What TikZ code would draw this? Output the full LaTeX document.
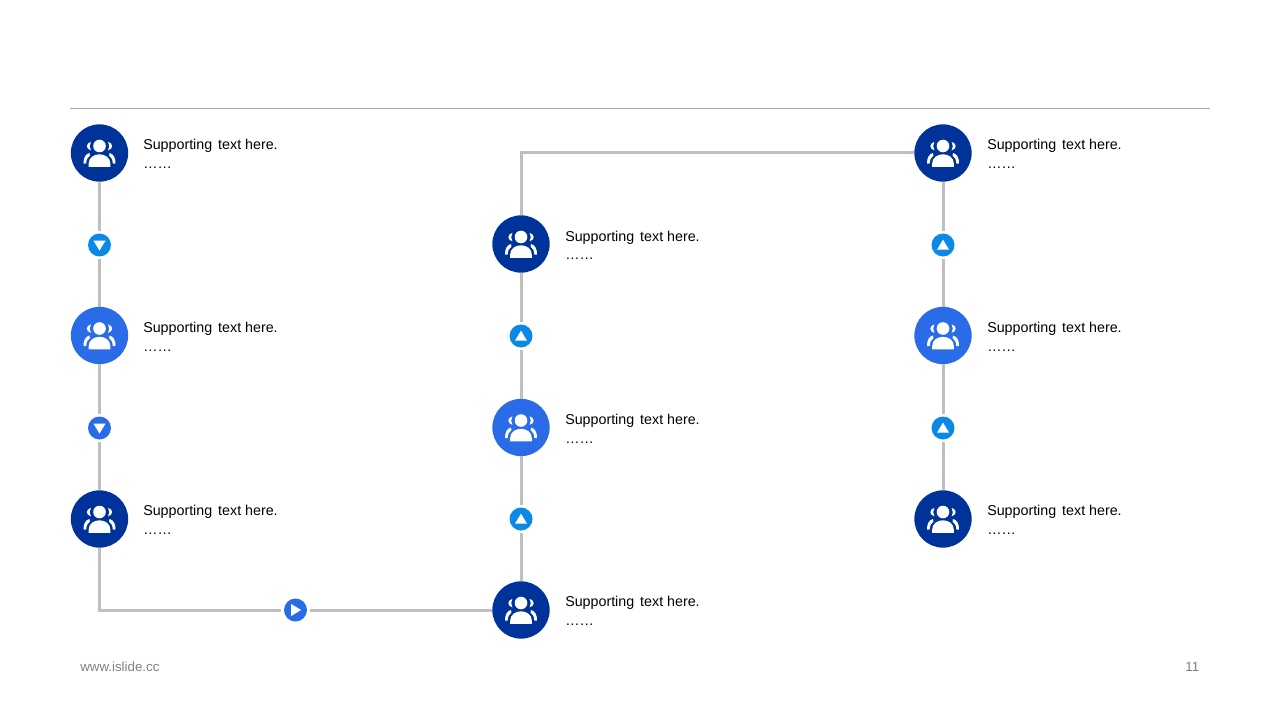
\documentclass[tikz,border=0pt]{standalone}
\usepackage{fontspec}
\setmainfont{Liberation Sans}
\definecolor{navy}{HTML}{003399}
\definecolor{midblue}{HTML}{2A6BE8}
\definecolor{skyblue}{HTML}{0A8AE6}
\definecolor{linegray}{HTML}{BFBFBF}
\definecolor{rulegray}{HTML}{A6A6A6}
\definecolor{footgray}{HTML}{808080}
\newcommand{\suptext}{Supporting\hspace{1.5pt} text here.\\……}
\tikzset{
  x=0.75pt,y=-0.75pt,
  bigdark/.style={circle,fill=navy,minimum size=43pt,inner sep=0pt,outer sep=0pt},
  bigmid/.style={circle,fill=midblue,minimum size=43pt,inner sep=0pt,outer sep=0pt},
  smallsky/.style={circle,fill=skyblue,minimum size=17.25pt,inner sep=0pt,outer sep=2.2pt},
  smallmid/.style={circle,fill=midblue,minimum size=17.25pt,inner sep=0pt,outer sep=2.2pt},
  conn/.style={draw=linegray,line width=2.25pt},
  label/.style={anchor=north west,inner sep=0pt,align=left,font=\fontsize{10.7}{13.8}\selectfont,text=black},
  foot/.style={inner sep=0pt,font=\fontsize{10}{12}\selectfont,text=footgray},
  crescents/.pic={
    \fill[white] (-8.6,-11.2) .. controls (-14,-9.5) and (-14,-4.2) .. (-8.6,-2.6)
       .. controls (-10.2,-5.2) and (-10.2,-8.5) .. cycle;
    \fill[white] (-10,0) .. controls (-13.8,0.8) and (-16.4,5) .. (-15.9,10.7)
       .. controls (-15,11.4) and (-13.8,11.2) .. (-13.2,10.4)
       .. controls (-13.2,6.5) and (-12,4.5) .. (-9.6,2.6) -- cycle;
  },
  person/.pic={
    \fill[white] (0,-7) circle[radius=6.3];
    \fill[white] (-10.9,13.8) -- (-10.9,11) .. controls (-10.9,4.5) and (-5.5,1.3) .. (0,1.3)
       .. controls (5.5,1.3) and (10.9,4.5) .. (10.9,11) -- (10.9,13.8) -- cycle;
    \pic {crescents};
    \pic[xscale=-1] {crescents};
  },
  tridown/.pic={\fill[white] (-6,-4.3) -- (6,-4.3) -- (0,5.6) -- cycle;},
  triup/.pic={\fill[white] (-6,4.6) -- (6,4.6) -- (0,-5.4) -- cycle;},
  triright/.pic={\fill[white] (-4.3,-6) -- (-4.3,6) -- (5.6,0) -- cycle;},
}
\begin{document}
\begin{tikzpicture}
\useasboundingbox (0,0) rectangle (1280,720);
\coordinate (ruleL) at (70,108.5);
\coordinate (ruleR) at (1210,108.5);
\draw[rulegray,line width=0.75pt] (ruleL) -- (ruleR);

% big circles
\node[bigdark] (a1) at (99.5,153) {};
\node[bigmid]  (a2) at (99.5,335.5) {};
\node[bigdark] (a3) at (99.5,519) {};
\node[bigdark] (b1) at (521,244) {};
\node[bigmid]  (b2) at (521,427.5) {};
\node[bigdark] (b3) at (521,610) {};
\node[bigdark] (c1) at (943,153) {};
\node[bigmid]  (c2) at (943,335.5) {};
\node[bigdark] (c3) at (943,519) {};

% small circles
\node[smallsky] (s1) at (99.5,245) {};
\node[smallmid] (s2) at (99.5,428) {};
\node[smallmid] (s3) at (295.5,610) {};
\node[smallsky] (s4) at (521,336) {};
\node[smallsky] (s5) at (521,519) {};
\node[smallsky] (s6) at (943,245) {};
\node[smallsky] (s7) at (943,428) {};

% connectors
\draw[conn] (a1) -- (s1);
\draw[conn] (s1) -- (a2);
\draw[conn] (a2) -- (s2);
\draw[conn] (s2) -- (a3);
\draw[conn] (a3) |- (s3);
\draw[conn] (s3) -- (b3);
\draw[conn] (b3) -- (s5);
\draw[conn] (s5) -- (b2);
\draw[conn] (b2) -- (s4);
\draw[conn] (s4) -- (b1);
\draw[conn] (b1) |- (c1);
\draw[conn] (c1) -- (s6);
\draw[conn] (s6) -- (c2);
\draw[conn] (c2) -- (s7);
\draw[conn] (s7) -- (c3);

% icons
\foreach \n in {a1,a2,a3,b1,b2,b3,c1,c2,c3}{\pic at (\n) {person};}
\pic at (s1) {tridown};
\pic at (s2) {tridown};
\pic at (s3) {triright};
\pic at (s4) {triup};
\pic at (s5) {triup};
\pic at (s6) {triup};
\pic at (s7) {triup};

% labels
\node[label] (ta1) at (143,139) {\suptext};
\node[label] (ta2) at (143,322) {\suptext};
\node[label] (ta3) at (143,505) {\suptext};
\node[label] (tb1) at (565,230.5) {\suptext};
\node[label] (tb2) at (565,414) {\suptext};
\node[label] (tb3) at (565,596) {\suptext};
\node[label] (tc1) at (987,139) {\suptext};
\node[label] (tc2) at (987,322) {\suptext};
\node[label] (tc3) at (987,505) {\suptext};

\node[foot,anchor=west] (site) at (80,666.5) {www.islide.cc};
\node[foot,anchor=east] (page) at (1199.5,666.5) {11};
\end{tikzpicture}
\end{document}
